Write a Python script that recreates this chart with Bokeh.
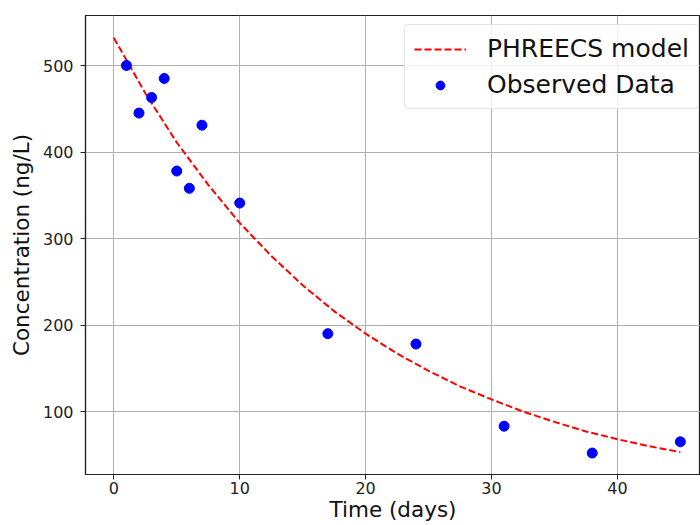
from bokeh.plotting import figure
from bokeh.models import Range1d, Legend, LegendItem, SingleIntervalTicker
from bokeh.embed import file_html
from bokeh.resources import INLINE

# Observed data
obs_days = [1, 2, 3, 4, 5, 6, 7, 10, 17, 24, 31, 38, 45]
obs_conc = [500, 445, 463, 485, 378, 358, 431, 341, 190, 178, 83, 52, 65]

# PHREECS model curve
model_days = [0, 2.5, 5, 7.5, 10, 12.5, 15, 17.5, 20, 22.5, 25, 27.5, 30,
              32.5, 35, 37.5, 40, 42.5, 45]
model_conc = [532, 468, 411, 362, 318, 280, 246, 216, 190, 167, 147, 129, 114,
              100, 88, 77, 68, 60, 53]

FONT = "DejaVu Sans"

p = figure(width=700, height=525, output_backend="svg", toolbar_location=None,
           x_range=Range1d(-2.25, 46.6), y_range=Range1d(27.2, 557.8),
           min_border_left=85, min_border_top=15, min_border_right=0,
           min_border_bottom=51)

p.outline_line_color = "#222222"
p.outline_line_width = 1.2

for ax in (p.xaxis, p.yaxis):
    ax.axis_line_color = "#222222"
    ax.axis_line_width = 1.2
    ax.major_tick_line_color = "#222222"
    ax.major_tick_out = 5
    ax.major_tick_in = 0
    ax.minor_tick_line_color = None
    ax.major_label_text_font = FONT
    ax.major_label_text_font_size = "16px"
    ax.major_label_text_color = "#222222"
    ax.axis_label_text_font = FONT
    ax.axis_label_text_font_size = "21.5px"
    ax.axis_label_text_font_style = "normal"
    ax.axis_label_text_color = "#111111"

p.xaxis.ticker = SingleIntervalTicker(interval=10)
p.yaxis.ticker = SingleIntervalTicker(interval=100)
p.xaxis.axis_label = "Time (days)"
p.yaxis.axis_label = "Concentration (ng/L)"
p.xaxis.major_label_standoff = 2
p.xaxis.axis_label_standoff = 0
p.yaxis.major_label_standoff = 7
p.yaxis.axis_label_standoff = 6

p.xgrid.grid_line_color = "#b0b0b0"
p.ygrid.grid_line_color = "#b0b0b0"
p.xgrid.grid_line_width = 1
p.ygrid.grid_line_width = 1

line = p.line(model_days, model_conc, line_color="#ff0000", line_width=2,
              line_dash="7 3")
pts = p.scatter(obs_days, obs_conc, size=10, fill_color="#0000ff",
                line_color="#0000ff")

legend = Legend(items=[LegendItem(label="PHREECS model", renderers=[line]),
                       LegendItem(label="Observed Data", renderers=[pts])],
                location=(319, 365))
legend.label_text_font = FONT
legend.label_text_font_size = "25px"
legend.label_text_color = "#111111"
legend.glyph_width = 52
legend.glyph_height = 22
legend.label_standoff = 21
legend.spacing = 7
legend.padding = 9
legend.margin = 0
legend.border_line_color = "#cccccc"
legend.border_line_width = 1
legend.background_fill_alpha = 0.8
legend.border_radius = 4
p.add_layout(legend)

open("out.html", "w").write(file_html(p, INLINE))
